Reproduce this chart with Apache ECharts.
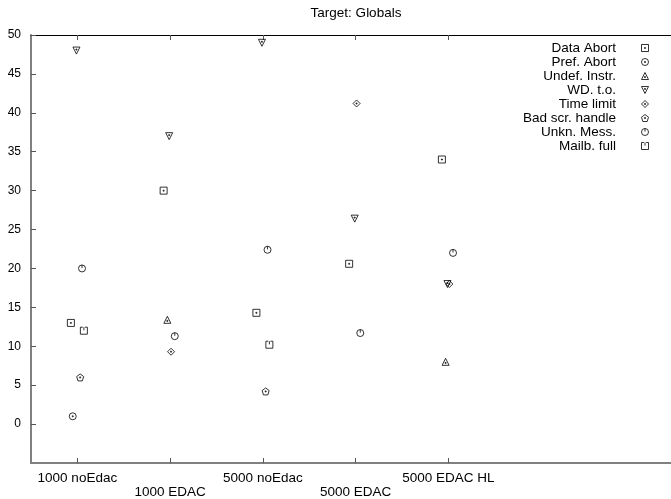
<!DOCTYPE html>
<html>
<head>
<meta charset="utf-8">
<script src="https://cdn.jsdelivr.net/npm/echarts@6/dist/echarts.min.js"></script>
<style>
  html, body { margin: 0; padding: 0; background: #fff; }
  #chart { width: 671px; height: 499px; }
</style>
</head>
<body>
<div id="chart"></div>
<script>
// Test configurations along the x axis
const categories = ['1000 noEdac', '1000 EDAC', '5000 noEdac', '5000 EDAC', '5000 EDAC HL'];

// Failure counts per configuration (null = no occurrence plotted)
const dataAbort    = [13,   30,   14.3, 20.6, 34];
const prefAbort    = [1,    null, null, null, null];
const undefInstr   = [null, 13.4, null, null, 8];
const wdTimeout    = [48,   37,   49,   26.4, 18];
const timeLimit    = [null, 9.3,  null, 41.2, 18];
const badScrHandle = [6,    null, 4.2,  null, null];
const unknMess     = [20,   11.3, 22.4, 11.7, 22];
const mailbFull    = [12,   null, 10.2, null, null];

const seriesNames = ['Data Abort', 'Pref. Abort', 'Undef. Instr.', 'WD. t.o.',
                     'Time limit', 'Bad scr. handle', 'Unkn. Mess.', 'Mailb. full'];
const seriesValues = [dataAbort, prefAbort, undefInstr, wdTimeout,
                      timeLimit, badScrHandle, unknMess, mailbFull];

const yTicks = [0, 5, 10, 15, 20, 25, 30, 35, 40, 45, 50];
const xTicks = [0, 1, 2, 3, 4];

// Outline point glyphs (stroked, unfilled)
const DOT = ' M4.3 4.3 L5.7 4.3 L5.7 5.7 L4.3 5.7 Z';
const CIRCLE = 'M0 5 A5 5 0 1 1 10 5 A5 5 0 1 1 0 5 Z';
const symbols = [
  'path://M0 0 L10 0 L10 10 L0 10 Z' + DOT,
  'path://' + CIRCLE + DOT,
  'path://M5 0 L10 10 L0 10 Z M4.3 5.8 L5.7 5.8 L5.7 7.2 L4.3 7.2 Z',
  'path://M0 0 L10 0 L5 10 Z M4.3 2.8 L5.7 2.8 L5.7 4.2 L4.3 4.2 Z',
  'path://M5 0 L10 5 L5 10 L0 5 Z' + DOT,
  'path://M5 0 L10 3.8 L8.1 10 L1.9 10 L0 3.8 Z' + DOT,
  'path://' + CIRCLE + ' M5 0 L5 4.5',
  'path://M0 0 L3.5 0 M6.5 0 L10 0 L10 10 L0 10 L0 0 M5 0 L5 4.5'
];

const FONT = '"Liberation Sans", Arial, Helvetica, sans-serif';
const HOLLOW = 'rgba(255,255,255,0)';

// Small horizontal shift per series so coincident points stay visible
const jitter = i => (i - 3.5) * 0.02;

const series = seriesNames.map((name, i) => ({
  name: name,
  type: 'scatter',
  symbol: symbols[i],
  symbolSize: 7,
  itemStyle: { color: HOLLOW, borderColor: '#000', borderWidth: 1 },
  emphasis: { disabled: true },
  data: seriesValues[i]
    .map((v, c) => (v == null ? null : [c + jitter(i), v]))
    .filter(p => p !== null)
}));

const X_MIN = -0.5, X_MAX = 6.4;

const chart = echarts.init(document.getElementById('chart'), null, { renderer: 'canvas' });
chart.setOption({
  animation: false,
  backgroundColor: '#fff',
  graphic: [{
    type: 'text',
    x: 356, y: 13,
    style: {
      text: 'Target: Globals',
      align: 'center', verticalAlign: 'middle',
      font: '13.5px ' + FONT, fill: '#000'
    }
  }],
  legend: {
    orient: 'vertical',
    align: 'right',
    right: 17,
    top: 36,
    itemWidth: 48,
    itemHeight: 7,
    itemGap: 0,
    selectedMode: false,
    itemStyle: { color: HOLLOW, borderColor: '#000', borderWidth: 1 },
    textStyle: { fontFamily: FONT, fontSize: 13.5, color: '#000', lineHeight: 14 },
    data: seriesNames
  },
  grid: { left: 31, right: 0, top: 35, bottom: 35, containLabel: false },
  xAxis: [{
    type: 'value',
    min: X_MIN,
    max: X_MAX,
    position: 'bottom',
    splitLine: { show: false },
    axisLine: { show: true, onZero: false, lineStyle: { color: '#808080', width: 2 } },
    axisTick: { show: true, inside: true, length: 5, customValues: xTicks,
                lineStyle: { color: '#555', width: 1 } },
    axisLabel: {
      customValues: xTicks,
      margin: 8,
      fontFamily: FONT, fontSize: 13.5, color: '#000', lineHeight: 14,
      formatter: v => {
        const name = categories[Math.round(v)];
        return Math.round(v) % 2 === 1 ? '\n' + name : name;
      }
    }
  }, {
    type: 'value',
    min: X_MIN,
    max: X_MAX,
    position: 'top',
    splitLine: { show: false },
    axisLine: { show: true, onZero: false, lineStyle: { color: '#000', width: 1 } },
    axisTick: { show: true, inside: true, length: 5, customValues: xTicks,
                lineStyle: { color: '#555', width: 1 } },
    axisLabel: { show: false }
  }],
  yAxis: {
    type: 'value',
    min: -5,
    max: 50,
    interval: 5,
    splitLine: { show: false },
    axisLine: { show: true, onZero: false, lineStyle: { color: '#808080', width: 2 } },
    axisTick: { show: true, inside: true, length: 5, customValues: yTicks,
                lineStyle: { color: '#555', width: 1 } },
    axisLabel: {
      customValues: yTicks,
      margin: 10,
      fontFamily: FONT, fontSize: 12, color: '#000'
    }
  },
  series: series
});
</script>
</body>
</html>
